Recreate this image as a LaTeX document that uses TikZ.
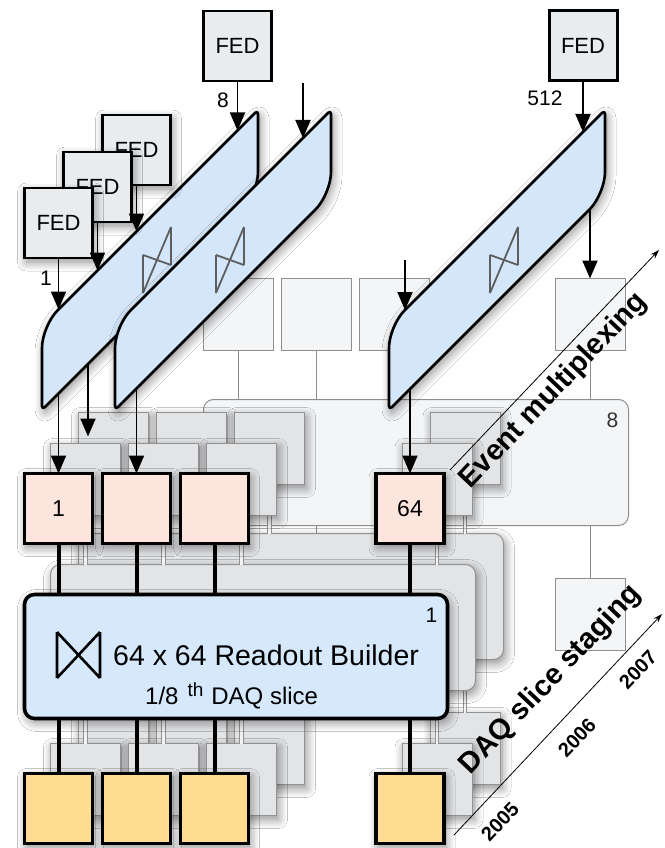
\documentclass[tikz,border=0pt]{standalone}
\usepackage{fontspec}
\setmainfont{Liberation Sans}
\usetikzlibrary{arrows.meta,shadows.blur}

\definecolor{fedfill}{HTML}{E9ECEF}
\definecolor{slabblue}{HTML}{D4E6FA}
\definecolor{bldblue}{HTML}{D6E8FB}
\definecolor{rupink}{HTML}{FDE4DC}
\definecolor{buyellow}{HTML}{FEDD92}
\definecolor{backfill}{HTML}{F4F5F7}
\definecolor{backline}{HTML}{8E8E8E}
\definecolor{midfill}{HTML}{E3E4E6}
\definecolor{midline}{HTML}{929292}
\definecolor{symgray}{HTML}{5E5E5E}

\newcommand\fsz[1]{\fontsize{#1}{#1}\selectfont}

\tikzset{
  softshadow/.style={blur shadow={shadow xshift=2pt,shadow yshift=-4pt,shadow blur radius=9pt,shadow blur steps=10,shadow opacity=45}},
  unitcell/.style={minimum width=68pt,minimum height=70pt,inner sep=0pt,outer sep=0pt},
  bldshape/.style={minimum width=423pt,minimum height=124pt,rounded corners=10pt,inner sep=0pt,outer sep=0pt},
  frontru/.style={unitcell,fill=rupink,draw=black,line width=3.6pt,softshadow},
  frontbld/.style={bldshape,fill=bldblue,draw=black,line width=3.6pt,softshadow},
  frontbu/.style={unitcell,fill=buyellow,draw=black,line width=3.6pt,softshadow},
  frontlink/.style={draw=black,line width=4pt},
  midru/.style={unitcell,minimum width=70pt,minimum height=72pt,fill=midfill,draw=midline,line width=1pt,softshadow},
  midbld/.style={bldshape,minimum width=425pt,minimum height=126pt,fill=midfill,draw=midline,line width=1pt,softshadow},
  midbu/.style={midru},
  midlink/.style={draw=midline,line width=0.9pt,double=midfill!50!white,double distance=2.6pt},
  backru/.style={unitcell,minimum width=70pt,minimum height=72pt,fill=backfill,draw=backline,line width=1pt},
  backbld/.style={bldshape,minimum width=425pt,minimum height=126pt,fill=backfill,draw=backline,line width=1pt},
  backbu/.style={backru},
  backlink/.style={draw=backline,line width=1pt},
  fedbox/.style={unitcell,fill=fedfill,draw=black,line width=2.6pt,font=\fsz{22}},
  slabbody/.style={fill=slabblue,draw=black,line width=2.6pt,line join=round},
  swsym/.style={draw=symgray,line width=1.8pt},
  fedarrow/.style={draw=black,line width=1.9pt,-{Triangle[length=18pt,width=15pt]}},
  stagearrow/.style={draw=black,line width=0.8pt,-{Stealth[length=9pt,width=6pt]}},
  portnum/.style={font=\fsz{21},inner sep=0pt},
  stagetext/.style={font=\bfseries\fsz{29},rotate=46.5,inner sep=0pt},
  yeartext/.style={font=\bfseries\fsz{20},rotate=46.5,inner sep=0pt},
}

% one DAQ slice: readout units, readout builder, builder units
% #1 name suffix, #2/#3 offset, #4 look (front, mid, back)
\newcommand\daqslice[4]{%
  \begin{scope}[shift={(#2,#3)}]
    \node[#4ru] (ru#1 1) at (58.5,508.5) {};
    \node[#4ru] (ru#1 2) at (136.5,508.5) {};
    \node[#4ru] (ru#1 3) at (214.5,508.5) {};
    \node[#4ru] (ru#1 64) at (410,508.5) {};
    \node[#4bld] (rb#1) at (236,656.5) {};
    \node[#4bu] (bu#1 1) at (58.5,808.5) {};
    \node[#4bu] (bu#1 2) at (136.5,808.5) {};
    \node[#4bu] (bu#1 3) at (214.5,808.5) {};
    \node[#4bu] (bu#1 64) at (410,808.5) {};
    \foreach \k in {1,2,3,64}{
      \draw[#4link] (ru#1 \k.south) -- (ru#1 \k.south |- rb#1.north);
      \draw[#4link] (bu#1 \k.north |- rb#1.south) -- (bu#1 \k.north);
    }
  \end{scope}}

% FED builder switch: slanted slab with its crossbar symbol, #1 = left edge
\newcommand\fedslab[1]{%
  \draw[slabbody,softshadow] (#1,368) [rounded corners=22pt] -- (#1,326)
     [rounded corners=4pt] -- ({#1+216},110) [rounded corners=22pt] -- ({#1+216},194)
     [rounded corners=4pt] -- (#1,410) -- cycle;
  \draw[swsym] ({#1+101},255) -- ({#1+101},293) ({#1+129},227) -- ({#1+129},265)
     ({#1+101},255) -- ({#1+129},265) ({#1+101},293) -- ({#1+129},227);}

\begin{document}
\begin{tikzpicture}[x=1pt,y=-1pt]
\useasboundingbox (0,0) rectangle (664,848);
\fill[white] (0,0) rectangle (664,848);

% slices 8, 3, 2 behind slice 1
\daqslice{H}{180}{-194}{back}
\node[portnum,text=black!80] at ([xshift=-16pt,yshift=-21pt]rbH.north east) {8};
\daqslice{C}{55}{-60}{mid}
\daqslice{B}{27}{-29}{mid}
\daqslice{A}{0}{0}{front}
\node[portnum,font=\fsz{23}] at (ruA 1) {1};
\node[portnum,font=\fsz{23}] at (ruA 64) {64};
\node[portnum] at ([xshift=-16pt,yshift=-21pt]rbA.north east) {1};

% readout builder label
\draw[black,line width=2.6pt] (57,632) -- (57,678) (100,632) -- (100,678)
  (57,632) -- (100,678) (57,678) -- (100,632);
\node[anchor=base west,inner sep=0pt,font=\fsz{28.5}] (rbtitle) at (113,665) {64 x 64 Readout Builder};
\node[anchor=base west,inner sep=0pt,font=\fsz{24}] (rbsub) at (145,704)
  {1/8\hspace{9pt}\raisebox{8pt}{\fsz{19}th}\hspace{8pt}DAQ slice};

% FED builders
\fedslab{42}
\fedslab{115}
\fedslab{389}

% front end drivers
\node[fedbox,softshadow] (fed3) at (136.5,150) {FED};
\node[fedbox,softshadow] (fed2) at (97.5,187) {FED};
\node[fedbox,softshadow] (fed1) at (58.5,223) {FED};
\node[fedbox] (fed8) at (237.5,46) {FED};
\node[fedbox,line width=3pt] (fed512) at (583,46) {FED};

% slab entry and exit points
\coordinate (s1in1) at (58.5,309.5);
\coordinate (s1in2) at (97.5,270.5);
\coordinate (s1in3) at (136.5,231.5);
\coordinate (s1in8) at (237.5,130.5);
\coordinate (s2src) at (303,83);
\coordinate (s2in) at (303,138);
\coordinate (s3src) at (405,260);
\coordinate (s3in1) at (405,310);
\coordinate (s3in512) at (583,132);
\coordinate (s1out1) at (58.5,393.5);
\coordinate (s1out2) at (88,364);
\coordinate (s2out1) at (136.5,388.5);
\coordinate (s3out1) at (410,389);
\coordinate (s3out8) at (590,209);

\draw[fedarrow] (fed1.south) -- (s1in1);
\draw[fedarrow] (fed2.south) -- (s1in2);
\draw[fedarrow] (fed3.south) -- (s1in3);
\draw[fedarrow] (fed8.south) -- (s1in8);
\draw[fedarrow] (s2src) -- (s2in);
\draw[fedarrow] (fed512.south) -- (s3in512);
\draw[fedarrow] (s3src) -- (s3in1);

\draw[fedarrow] (s1out1) -- (ruA 1.north);
\draw[fedarrow,shorten >=7pt] (s1out2) -- (s1out2 |- ruB 1.north);
\draw[fedarrow] (s2out1) -- (ruA 2.north);
\draw[fedarrow] (s3out1) -- (ruA 64.north);
\draw[fedarrow] (s3out8) -- (ruH 64.north);

\node[portnum] (n1) at (46,278) {1};
\node[portnum] (n8) at (223,100) {8};
\node[portnum] (n512) at (545,98) {512};

% staging axes
\coordinate (em0) at (450,470);
\coordinate (em1) at (659,250);
\draw[stagearrow] (em0) -- (em1);
\coordinate (ds0) at (454,835);
\coordinate (ds1) at (662,614);
\draw[stagearrow] (ds0) -- (ds1);
\node[stagetext] (emtext) at (554,391) {Event multiplexing};
\node[stagetext] (dstext) at (551,680) {DAQ slice staging};
\node[yeartext] (y5) at (500,822) {2005};
\node[yeartext] (y6) at (577,738) {2006};
\node[yeartext] (y7) at (638,670) {2007};
\end{tikzpicture}
\end{document}
